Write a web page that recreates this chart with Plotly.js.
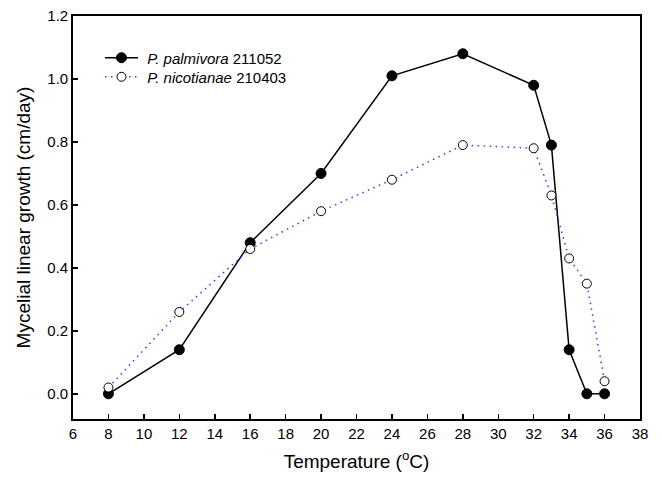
<!DOCTYPE html>
<html>
<head>
<meta charset="utf-8">
<script src="https://cdn.plot.ly/plotly-3.0.1.min.js"></script>
<style>html,body{margin:0;padding:0;background:#fff;}#chart{width:662px;height:484px;}</style>
</head>
<body>
<div id="chart"></div>
<script>
const temperature = [8, 12, 16, 20, 24, 28, 32, 33, 34, 35, 36];
const palmivora = [0.00, 0.14, 0.48, 0.70, 1.01, 1.08, 0.98, 0.79, 0.14, 0.00, 0.00];
const nicotianae = [0.02, 0.26, 0.46, 0.58, 0.68, 0.79, 0.78, 0.63, 0.43, 0.35, 0.04];
const xTicks = [6, 8, 10, 12, 14, 16, 18, 20, 22, 24, 26, 28, 30, 32, 34, 36, 38];
const yTicks = [0.0, 0.2, 0.4, 0.6, 0.8, 1.0, 1.2];

const font = 'Liberation Sans, Arial, sans-serif';

const traces = [
  {
    x: temperature, y: palmivora, type: 'scatter', mode: 'lines+markers',
    name: '\u00a0<i>P. palmivora</i> 211052',
    legend: 'legend',
    line: {color: '#000', width: 1.5},
    marker: {color: '#000', size: 10, symbol: 'circle', line: {color: '#000', width: 1}}
  },
  {
    x: temperature, y: nicotianae, type: 'scatter', mode: 'lines+markers',
    name: '\u00a0<i>P. nicotianae</i> 210403',
    legend: 'legend2',
    line: {color: '#3a3aff', width: 1.5, dash: '1.5px,4.5px'},
    marker: {color: '#fff', size: 9, symbol: 'circle', line: {color: '#000', width: 1}}
  }
];

const legendBase = {
  xanchor: 'left', yanchor: 'middle',
  bgcolor: 'rgba(0,0,0,0)', borderwidth: 0,
  font: {family: font, size: 15, color: '#000'},
  itemwidth: 33
};

const layout = {
  width: 662, height: 484,
  margin: {l: 73, r: 22, t: 16, b: 65},
  paper_bgcolor: '#fff', plot_bgcolor: '#fff',
  font: {family: font, size: 15, color: '#000'},
  showlegend: true,
  legend: Object.assign({}, legendBase, {x: 0.0476, y: 0.8958}),
  legend2: Object.assign({}, legendBase, {x: 0.0476, y: 0.8486}),
  xaxis: {
    range: [6, 38], tickmode: 'array', tickvals: xTicks,
    ticktext: xTicks.map(String),
    ticks: 'inside', ticklen: 5, tickwidth: 1.5, tickcolor: '#000',
    showline: true, linecolor: '#000', linewidth: 1.8, mirror: true,
    showgrid: false, zeroline: false,
    tickfont: {family: font, size: 15, color: '#000'},
    title: {text: 'Temperature (<sup>o</sup>C)', font: {family: font, size: 19, color: '#000'}, standoff: 14}
  },
  yaxis: {
    range: [-0.08, 1.2], tickmode: 'array', tickvals: yTicks,
    ticktext: yTicks.map(v => v.toFixed(1)),
    ticks: 'inside', ticklen: 5, tickwidth: 1.5, tickcolor: '#000',
    showline: true, linecolor: '#000', linewidth: 1.8, mirror: true,
    showgrid: false, zeroline: false,
    tickfont: {family: font, size: 15, color: '#000'},
    title: {text: 'Mycelial linear growth (cm/day)', font: {family: font, size: 19, color: '#000'}, standoff: 12}
  }
};

Plotly.newPlot('chart', traces, layout, {displayModeBar: false, staticPlot: true});
</script>
</body>
</html>
